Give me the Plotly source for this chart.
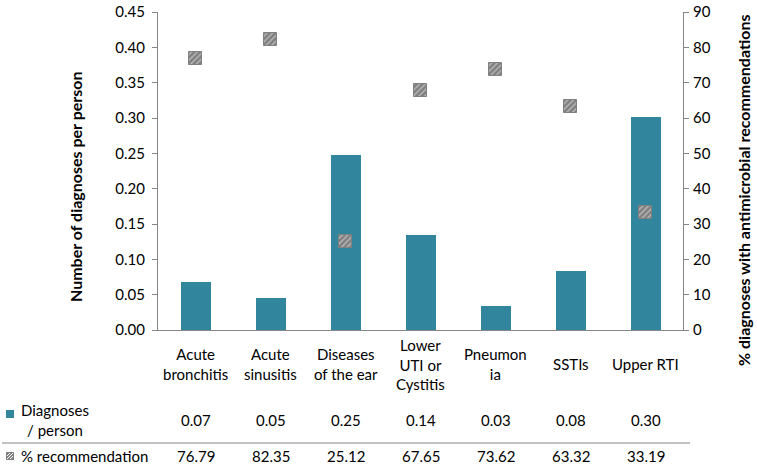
import plotly.graph_objects as go

# ---- data ----
categories = ["Acute bronchitis", "Acute sinusitis", "Diseases of the ear",
              "Lower UTI or Cystitis", "Pneumonia", "SSTIs", "Upper RTI"]
category_labels = ["Acute<br>bronchitis", "Acute<br>sinusitis", "Diseases<br>of the ear",
                   "Lower<br>UTI or<br>Cystitis", "Pneumon<br>ia", "SSTIs", "Upper RTI"]
diagnoses_per_person = [0.068, 0.045, 0.247, 0.135, 0.034, 0.083, 0.301]
diagnoses_table_text = ["0.07", "0.05", "0.25", "0.14", "0.03", "0.08", "0.30"]
pct_recommendation = [76.79, 82.35, 25.12, 67.65, 73.62, 63.32, 33.19]
left_ticks = [0.00, 0.05, 0.10, 0.15, 0.20, 0.25, 0.30, 0.35, 0.40, 0.45]
right_ticks = [0, 10, 20, 30, 40, 50, 60, 70, 80, 90]

# ---- layout geometry (pixels) ----
W, H = 757, 469
L, R, T, B = 158, 74, 12, 139
PW, PH = W - L - R, H - T - B
FONT = "Lato"
TEAL = "#31859C"
GRAY = "#808080"
AX = "#868686"

def px_x(px):
    return (px - L) / PW

def px_y(py):
    return (H - B - py) / PH

# marker size in data units
mk_px = 13
mk_h = mk_px * (right_ticks[-1] - right_ticks[0]) / PH
mk_w = mk_px / (PW / len(categories))

fig = go.Figure()
fig.add_trace(go.Bar(
    x=categories, y=diagnoses_per_person, width=0.4,
    marker=dict(color=TEAL, line=dict(width=0)),
    name="Diagnoses / person", showlegend=False, yaxis="y"))
fig.add_trace(go.Bar(
    x=categories, y=[mk_h] * len(categories),
    base=[v - mk_h / 2 for v in pct_recommendation], width=mk_w,
    marker=dict(color=GRAY, line=dict(color=GRAY, width=1),
                pattern=dict(shape="/", fgcolor="white", bgcolor=GRAY,
                             size=4, solidity=0.3)),
    name="% recommendation", showlegend=False, yaxis="y2"))

annotations = []
# category labels
for c, lab in zip(categories, category_labels):
    annotations.append(dict(x=c, xref="x", y=px_y(364), yref="paper",
                            text=lab, showarrow=False, xanchor="center",
                            yanchor="middle", align="center",
                            font=dict(family=FONT, size=15, color="black")))
# table rows
for c, t1, v2 in zip(categories, diagnoses_table_text, pct_recommendation):
    annotations.append(dict(x=c, xref="x", y=px_y(420), yref="paper",
                            text=t1, showarrow=False, xanchor="center",
                            yanchor="middle",
                            font=dict(family=FONT, size=15, color="black")))
    annotations.append(dict(x=c, xref="x", y=px_y(456), yref="paper",
                            text=f"{v2:.2f}", showarrow=False, xanchor="center",
                            yanchor="middle",
                            font=dict(family=FONT, size=15, color="black")))
annotations.append(dict(x=px_x(19), xref="paper", y=px_y(420), yref="paper",
                        text="Diagnoses<br>/ person", showarrow=False,
                        xanchor="left", yanchor="middle", align="center",
                        font=dict(family=FONT, size=15, color="black")))
annotations.append(dict(x=px_x(19), xref="paper", y=px_y(456), yref="paper",
                        text="% recommendation", showarrow=False,
                        xanchor="left", yanchor="middle", align="left",
                        font=dict(family=FONT, size=15, color="black")))
# axis titles
annotations.append(dict(x=px_x(75), xref="paper", y=px_y(187), yref="paper",
                        text="<b>Number of diagnoses per person</b>", textangle=-90,
                        showarrow=False, xanchor="center", yanchor="middle",
                        font=dict(family=FONT, size=16, color="black")))
annotations.append(dict(x=px_x(743), xref="paper", y=px_y(191), yref="paper",
                        text="<b>% diagnoses with antimicrobial recommendations</b>",
                        textangle=-90, showarrow=False, xanchor="center",
                        yanchor="middle",
                        font=dict(family=FONT, size=16, color="black")))

shapes = []
# table separator line
shapes.append(dict(type="line", xref="paper", yref="paper",
                   x0=px_x(2), x1=px_x(690), y0=px_y(443), y1=px_y(443),
                   line=dict(color=AX, width=1)))
# legend icons
shapes.append(dict(type="rect", xref="paper", yref="paper",
                   x0=px_x(6), x1=px_x(14), y0=px_y(418), y1=px_y(410),
                   fillcolor=TEAL, line=dict(width=0)))
shapes.append(dict(type="rect", xref="paper", yref="paper",
                   x0=px_x(6), x1=px_x(14), y0=px_y(460), y1=px_y(452),
                   fillcolor=GRAY, line=dict(width=0)))
for k in (-3, 0, 3):
    shapes.append(dict(type="line", xref="paper", yref="paper",
                       x0=px_x(7 + max(0, k)), y0=px_y(459 + min(0, k)),
                       x1=px_x(13 + min(0, k)), y1=px_y(453 + max(0, k)),
                       line=dict(color="white", width=1)))

fig.update_layout(
    width=W, height=H, margin=dict(l=L, r=R, t=T, b=B, pad=0, autoexpand=False),
    paper_bgcolor="white", plot_bgcolor="white",
    barmode="overlay", bargap=0,
    showlegend=False,
    font=dict(family=FONT, size=15, color="black"),
    xaxis=dict(type="category", categoryarray=categories, showticklabels=False,
               showline=True, linecolor=AX, linewidth=1, ticks="",
               showgrid=False, zeroline=False, range=[-0.5, 6.5], automargin=False),
    yaxis=dict(range=[0, 0.45], tickvals=left_ticks, tickformat=".2f",
               showline=True, linecolor=AX, linewidth=1, ticks="outside",
               ticklen=5, tickcolor=AX, showgrid=False, zeroline=False,
               automargin=False, ticklabelstandoff=4,
               tickfont=dict(family=FONT, size=15, color="black")),
    yaxis2=dict(range=[0, 90], tickvals=right_ticks, overlaying="y", side="right",
                showline=True, linecolor=AX, linewidth=1, ticks="outside",
                ticklen=5, tickcolor=AX, showgrid=False, zeroline=False,
                automargin=False, ticklabelstandoff=1,
                tickfont=dict(family=FONT, size=15, color="black")),
    annotations=annotations, shapes=shapes,
)

fig.write_html("out.html", config={"displayModeBar": False},
               post_script="document.body.style.margin='0';document.body.style.overflow='hidden';")
